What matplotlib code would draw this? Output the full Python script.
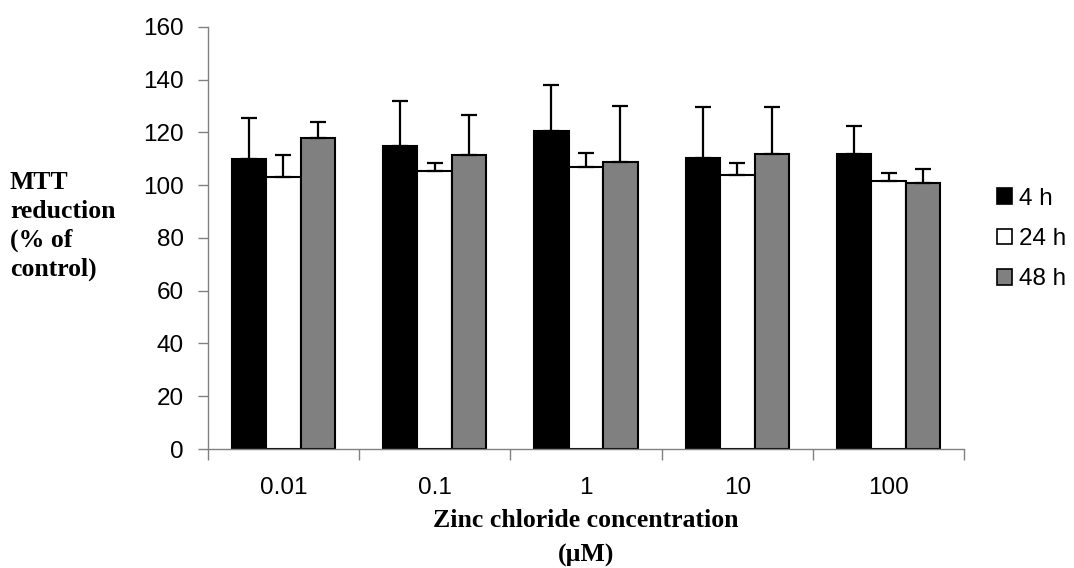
import matplotlib
matplotlib.use("Agg")
import matplotlib.pyplot as plt
import numpy as np
from matplotlib.patches import Patch

categories = ["0.01", "0.1", "1", "10", "100"]
series_names = ["4 h", "24 h", "48 h"]
vals_4h = [110, 115, 120.5, 110.5, 112]
vals_24h = [103, 105.5, 107, 104, 101.5]
vals_48h = [118, 111.5, 109, 112, 101]
err_4h = [15.5, 17, 17.5, 19, 10.5]
err_24h = [8.3, 3, 5.2, 4.4, 3]
err_48h = [6, 15, 21, 17.5, 5.2]
colors = ["#000000", "#ffffff", "#808080"]
yticks = [0, 20, 40, 60, 80, 100, 120, 140, 160]

values = [vals_4h, vals_24h, vals_48h]
errors = [err_4h, err_24h, err_48h]

fig = plt.figure(figsize=(10.74, 5.68), dpi=100)
ax = fig.add_axes([0.1934, 0.2095, 0.7044, 0.743])

x = np.arange(len(categories))
w = 0.228
for i, (v, e, c) in enumerate(zip(values, errors, colors)):
    pos = x + (i - 1) * w
    ax.bar(pos, v, width=w, color=c, edgecolor="#000000", linewidth=1.5, zorder=2)
    ax.errorbar(pos, v, yerr=[np.zeros(len(e)), e], fmt="none", ecolor="black",
                elinewidth=1.6, capsize=5.8, capthick=1.6, zorder=3)

tick_font = {"family": "Liberation Sans", "size": 17.5}
ax.set_xlim(-0.5, len(categories) - 0.5)
ax.set_ylim(0, 160)
ax.set_yticks(yticks)
ax.set_yticklabels([str(t) for t in yticks], **tick_font)
ax.set_xticks(np.arange(len(categories) + 1) - 0.5)
ax.set_xticklabels([])
ax.set_xticks(x, minor=True)
ax.set_xticklabels(categories, minor=True, **tick_font)
ax.tick_params(axis="x", which="major", length=8, width=1, color="#808080", direction="out")
ax.tick_params(axis="x", which="minor", length=0, pad=20)
ax.tick_params(axis="y", length=7, width=1, color="#808080", pad=10)

for s in ["top", "right"]:
    ax.spines[s].set_visible(False)
for s in ["left", "bottom"]:
    ax.spines[s].set_color("#808080")
    ax.spines[s].set_linewidth(1)

fig.text((207.7 + 964.3) / 2 / 1074, 1 - 538 / 568, "Zinc chloride concentration\n(\u00b5M)",
         ha="center", va="center", fontsize=18.5, family="Liberation Serif",
         fontweight="bold", linespacing=1.6)
fig.text(10 / 1074, 1 - 226 / 568, "MTT\nreduction\n(% of\ncontrol)", ha="left", va="center",
         fontsize=18.5, family="Liberation Serif", fontweight="bold", linespacing=1.33)

handles = [Patch(facecolor=c, edgecolor="black", linewidth=1.2) for c in colors]
leg = fig.legend(handles, series_names, loc="center left",
                 bbox_to_anchor=(997 / 1074, 1 - 239 / 568), frameon=False,
                 prop={"family": "Liberation Sans", "size": 17.5},
                 handlelength=0.62, handleheight=0.62, handletextpad=0.3,
                 labelspacing=0.75, borderaxespad=0, borderpad=0)

fig.savefig("out.png", dpi=100)
